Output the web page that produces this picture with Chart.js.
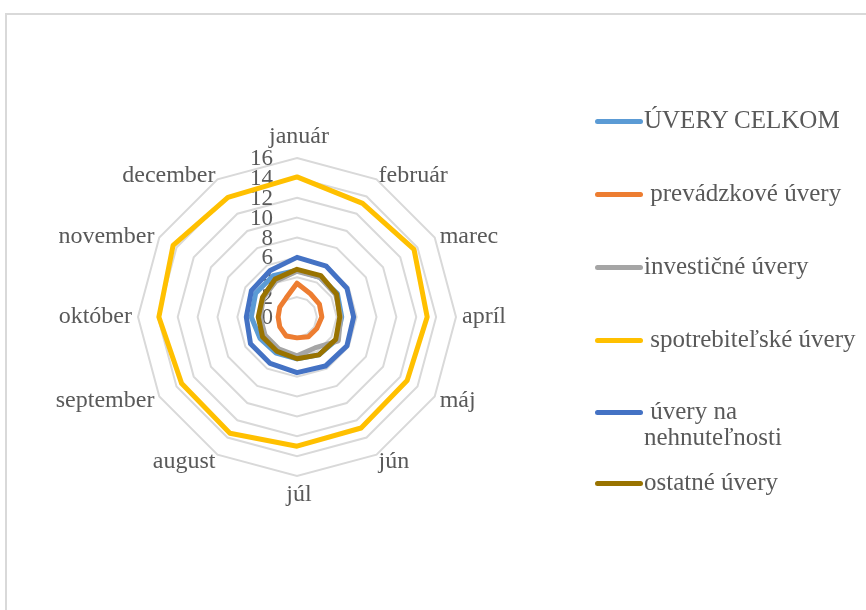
<!DOCTYPE html>
<html>
<head>
<meta charset="utf-8">
<script src="https://cdn.jsdelivr.net/npm/chart.js@4/dist/chart.umd.min.js"></script>
<style>
  html, body { margin: 0; padding: 0; background: #fff; overflow: hidden; }
  #wrap { position: relative; width: 866px; height: 610px; overflow: hidden; }
  #frame { position: absolute; left: 5px; top: 13px; width: 900px; height: 700px; border: 2px solid #d9d9d9; box-sizing: border-box; }
  canvas { position: absolute; left: 0; top: 0; }
  .lg { position: absolute; font-family: "Liberation Serif", "Times New Roman", serif; font-size: 25px; color: #595959; white-space: pre; line-height: 26px; }
  .sw { position: absolute; height: 5px; border-radius: 3px; }
</style>
</head>
<body>
<div id="wrap">
  <div id="frame"></div>
  <canvas id="c" width="866" height="610"></canvas>
  <div id="legend"></div>
</div>
<script>
const months = ['január','február','marec','apríl','máj','jún','júl','august','september','október','november','december'];
const tickValues = [0, 2, 4, 6, 8, 10, 12, 14, 16];

const seriesNames = ['ÚVERY CELKOM', ' prevádzkové úvery', 'investičné úvery', ' spotrebiteľské úvery', ' úvery na\nnehnuteľnosti', 'ostatné úvery'];
const seriesColors = ['#5B9BD5', '#ED7D31', '#A5A5A5', '#FFC000', '#4472C4', '#997300'];

const uveryCelkom    = [4.7, 4.6, 4.7, 4.5, 4.6, 4.4, 4.2, 4.2, 4.3, 4.6, 4.8, 4.8];
const prevadzkove    = [3.4, 2.7, 2.6, 2.5, 2.3, 2.3, 2.1, 2.2, 2.0, 1.9, 2.0, 2.2];
const investicne     = [4.6, 4.6, 4.5, 4.4, 4.8, 3.6, 3.9, 3.7, 3.7, 3.7, 3.9, 4.2];
const spotrebitelske = [14.1, 13.2, 13.6, 13.1, 12.8, 12.9, 13.0, 13.5, 13.4, 13.9, 14.4, 13.9];
const nehnutelnosti  = [6.0, 5.9, 5.8, 5.7, 5.8, 5.7, 5.6, 5.4, 5.4, 5.1, 5.3, 5.4];
const ostatne        = [4.8, 4.8, 4.6, 4.3, 4.5, 4.4, 4.2, 4.0, 4.0, 3.9, 4.0, 4.4];

const seriesData = [uveryCelkom, prevadzkove, investicne, spotrebitelske, nehnutelnosti, ostatne];
const drawOrder = [5, 4, 3, 2, 1, 0]; // later series on top

const FONT = '"Liberation Serif", "Times New Roman", serif';
const TEXT = '#595959';

const labelPlugin = {
  id: 'excelLabels',
  beforeDatasetsDraw(chart) {
    const s = chart.scales.r;
    const ctx = chart.ctx;
    ctx.save();
    ctx.font = '23px ' + FONT;
    ctx.fillStyle = TEXT;
    ctx.textAlign = 'right';
    ctx.textBaseline = 'middle';
    s.ticks.forEach(t => {
      const d = s.getDistanceFromCenterForValue(t.value);
      ctx.fillText(String(t.value), s.xCenter - 24, s.yCenter - d + 1);
    });
    ctx.restore();
  },
  afterDraw(chart) {
    const s = chart.scales.r;
    const ctx = chart.ctx;
    ctx.save();
    ctx.font = '24px ' + FONT;
    ctx.fillStyle = TEXT;
    ctx.textBaseline = 'middle';
    chart.data.labels.forEach((lab, i) => {
      const p = s.getPointPosition(i, s.drawingArea + 8);
      const dx = p.x - s.xCenter;
      const dy = p.y - s.yCenter;
      let y = p.y;
      if (Math.abs(dx) < 1) {
        ctx.textAlign = 'center';
        y += dy < 0 ? -13 : 11;
      } else {
        ctx.textAlign = dx > 0 ? 'left' : 'right';
        if (dy < -1) y += 3;
      }
      ctx.fillText(lab, dx > 0 ? p.x - 2 : p.x + 2, y);
    });
    ctx.restore();
  }
};

new Chart(document.getElementById('c'), {
  type: 'radar',
  data: {
    labels: months,
    datasets: seriesData.map((d, i) => ({
      label: seriesNames[i].trim(),
      data: d,
      borderColor: seriesColors[i],
      backgroundColor: 'transparent',
      borderWidth: 5,
      pointRadius: 0,
      pointHoverRadius: 0,
      fill: false,
      tension: 0,
      borderJoinStyle: 'round',
      order: drawOrder[i]
    }))
  },
  options: {
    responsive: false,
    animation: false,
    events: [],
    layout: { padding: { left: 138, right: 410, top: 158, bottom: 134 } },
    plugins: { legend: { display: false }, tooltip: { enabled: false } },
    scales: {
      r: {
        min: tickValues[0],
        max: tickValues[tickValues.length - 1],
        ticks: { display: false, stepSize: tickValues[1] - tickValues[0] },
        pointLabels: { display: false },
        angleLines: { display: false },
        grid: { color: '#d9d9d9', lineWidth: 2 }
      }
    }
  },
  plugins: [labelPlugin]
});

// HTML legend
const legendRows = [121, 194, 267, 340, 412, 483];
const lg = document.getElementById('legend');
seriesNames.forEach((name, i) => {
  const sw = document.createElement('div');
  sw.className = 'sw';
  sw.style.left = '595px';
  sw.style.width = '48px';
  sw.style.top = (legendRows[i] - 2.5) + 'px';
  sw.style.background = seriesColors[i];
  lg.appendChild(sw);
  const t = document.createElement('div');
  t.className = 'lg';
  t.textContent = name;
  t.style.left = '644px';
  t.style.top = (legendRows[i] - 14) + 'px';
  lg.appendChild(t);
});
</script>
</body>
</html>
